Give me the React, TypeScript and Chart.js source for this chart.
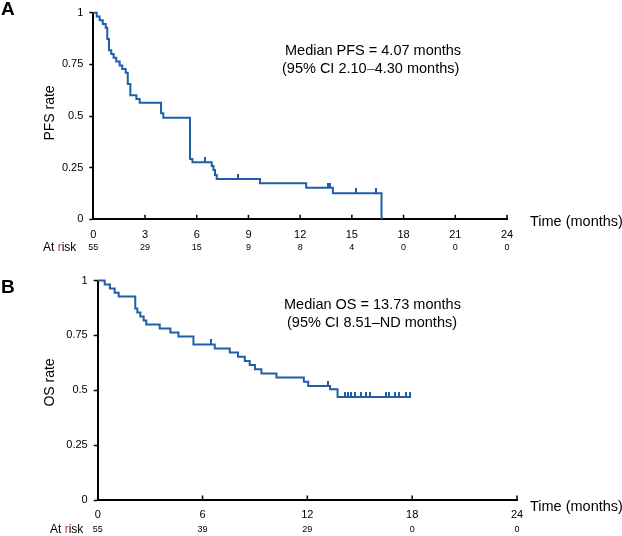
import React, { useEffect, useRef } from 'react';
import { Chart, registerables } from 'chart.js';

Chart.register(...registerables);

const FONT = '"Liberation Sans", Arial, Helvetica, sans-serif';
const BLUE = '#1f5ea8';
const RED = '#c0392b';

// ---------- Panel A: PFS ----------
const pfsTimes = [0, 0.2, 0.37, 0.55, 0.72, 0.81, 0.91, 1.04, 1.18, 1.33, 1.53, 1.68, 1.88, 2.0, 2.15, 2.5, 2.69, 3.93, 4.06, 5.61, 5.75, 6.87, 6.97, 7.06, 7.16, 9.67, 12.35, 13.9, 16.72];
const pfsSurvival = [1, 0.982, 0.964, 0.945, 0.927, 0.873, 0.818, 0.8, 0.782, 0.764, 0.745, 0.727, 0.709, 0.655, 0.6, 0.582, 0.564, 0.513, 0.492, 0.292, 0.276, 0.258, 0.239, 0.214, 0.195, 0.174, 0.153, 0.126, 0];
const pfsCensorTimes = [6.46, 8.4, 13.6, 13.74, 15.23, 16.4];
const pfsCensorSurvival = [0.276, 0.195, 0.153, 0.153, 0.126, 0.126];
const pfsTicks = [0, 3, 6, 9, 12, 15, 18, 21, 24];
const pfsAtRisk = [55, 29, 15, 9, 8, 4, 0, 0, 0];

// ---------- Panel B: OS ----------
const osTimes = [0, 0.4, 0.7, 0.97, 1.2, 2.15, 2.27, 2.44, 2.63, 2.78, 3.55, 4.16, 4.62, 5.48, 6.7, 7.56, 8.03, 8.42, 8.7, 9.0, 9.37, 10.23, 11.8, 12.05, 13.3, 13.73, 17.94];
const osSurvival = [1, 0.982, 0.964, 0.945, 0.927, 0.873, 0.855, 0.836, 0.818, 0.8, 0.782, 0.764, 0.745, 0.709, 0.691, 0.672, 0.653, 0.634, 0.615, 0.596, 0.577, 0.558, 0.539, 0.52, 0.505, 0.47, 0.47];
const osCensorTimes = [6.5, 13.18, 14.13, 14.32, 14.51, 14.7, 15.08, 15.37, 15.56, 16.51, 16.7, 16.99, 17.27, 17.65, 17.85];
const osCensorSurvival = [0.709, 0.52, 0.47, 0.47, 0.47, 0.47, 0.47, 0.47, 0.47, 0.47, 0.47, 0.47, 0.47, 0.47, 0.47];
const osTicks = [0, 6, 12, 18, 24];
const osAtRisk = [55, 39, 29, 0, 0];

const yTicks = [0, 0.25, 0.5, 0.75, 1];
const yTickLabels = ['0', '0.25', '0.5', '0.75', '1'];

type Part = { t: string; c: string };
type PanelDef = {
  letter: string;
  yTitle: string;
  times: number[];
  surv: number[];
  cTimes: number[];
  cSurv: number[];
  ticks: number[];
  atRisk: number[];
  notes: { x: number; y: number; parts: Part[] }[];
  canvasTop: number;
  height: number;
  left: number;
  right: number;
  top: number;
  bottom: number;
  xLabelPad: number;
  letterBase: number;
  yTitleY: number;
  timeY: number;
  atRiskY: number;
  atRiskX: number;
};

const panelA: PanelDef = {
  letter: 'A',
  yTitle: 'PFS rate',
  times: pfsTimes,
  surv: pfsSurvival,
  cTimes: pfsCensorTimes,
  cSurv: pfsCensorSurvival,
  ticks: pfsTicks,
  atRisk: pfsAtRisk,
  notes: [
    { x: 285, y: 51, parts: [{ t: 'Median PFS = 4.07 months', c: '#000' }] },
    { x: 282, y: 69, parts: [{ t: '(95% CI 2.10', c: '#000' }, { t: '\u2013', c: RED }, { t: '4.30 months)', c: '#000' }] },
  ],
  canvasTop: 0,
  height: 268,
  left: 93.3,
  right: 507,
  top: 12.7,
  bottom: 219.3,
  xLabelPad: 9,
  letterBase: 15,
  yTitleY: 113,
  timeY: 222,
  atRiskY: 248,
  atRiskX: 43,
};

const panelB: PanelDef = {
  letter: 'B',
  yTitle: 'OS rate',
  times: osTimes,
  surv: osSurvival,
  cTimes: osCensorTimes,
  cSurv: osCensorSurvival,
  ticks: osTicks,
  atRisk: osAtRisk,
  notes: [
    { x: 284, y: 37, parts: [{ t: 'Median OS = 13.73 months', c: '#000' }] },
    { x: 287, y: 55.3, parts: [{ t: '(95% CI 8.51\u2013ND months)', c: '#000' }] },
  ],
  canvasTop: 268,
  height: 268,
  left: 97.7,
  right: 517,
  top: 12,
  bottom: 232,
  xLabelPad: 8,
  letterBase: 25.3,
  yTitleY: 114.5,
  timeY: 238.7,
  atRiskY: 262,
  atRiskX: 50,
};

function makeCensorMark(): HTMLCanvasElement {
  const c = document.createElement('canvas');
  c.width = 2;
  c.height = 10;
  const g = c.getContext('2d')!;
  g.fillStyle = BLUE;
  g.fillRect(0, 0, 2, 5);
  return c;
}

function KMPanel({ p }: { p: PanelDef }) {
  const ref = useRef<HTMLCanvasElement>(null);
  useEffect(() => {
    const canvas = ref.current!;
    const mark = makeCensorMark();
    const textPlugin = {
      id: 'kmText',
      afterDraw(chart: any) {
        const ctx = chart.ctx as CanvasRenderingContext2D;
        const xs = chart.scales.x;
        const area = chart.chartArea;
        ctx.save();
        // inward x ticks
        ctx.strokeStyle = '#000';
        ctx.lineWidth = 1.5;
        p.ticks.forEach((v) => {
          const x = xs.getPixelForValue(v);
          ctx.beginPath();
          ctx.moveTo(x, area.bottom);
          ctx.lineTo(x, area.bottom - 4.5);
          ctx.stroke();
        });
        // panel letter
        ctx.fillStyle = '#000';
        ctx.textBaseline = 'alphabetic';
        ctx.textAlign = 'left';
        ctx.font = `bold 19px ${FONT}`;
        ctx.fillText(p.letter, 1, p.letterBase);
        // y title
        ctx.save();
        ctx.translate(50, p.yTitleY);
        ctx.rotate(-Math.PI / 2);
        ctx.textAlign = 'center';
        ctx.textBaseline = 'middle';
        ctx.font = `14px ${FONT}`;
        ctx.fillText(p.yTitle, 0, 0);
        ctx.restore();
        // x title
        ctx.textBaseline = 'middle';
        ctx.textAlign = 'left';
        ctx.font = `14.5px ${FONT}`;
        ctx.fillText('Time (months)', 530, p.timeY);
        // notes
        p.notes.forEach((n) => {
          let x = n.x;
          n.parts.forEach((part) => {
            ctx.fillStyle = part.c;
            ctx.fillText(part.t, x, n.y);
            x += ctx.measureText(part.t).width;
          });
        });
        // at risk label
        ctx.font = `12px ${FONT}`;
        let ax = p.atRiskX;
        const arParts: Part[] = [
          { t: 'At ', c: '#000' },
          { t: 'r', c: RED },
          { t: 'isk', c: '#000' },
        ];
        arParts.forEach((part) => {
          ctx.fillStyle = part.c;
          ctx.fillText(part.t, ax, p.atRiskY);
          ax += ctx.measureText(part.t).width;
        });
        // at risk numbers
        ctx.fillStyle = '#000';
        ctx.font = `9px ${FONT}`;
        ctx.textAlign = 'center';
        p.ticks.forEach((v, i) => {
          ctx.fillText(String(p.atRisk[i]), xs.getPixelForValue(v), p.atRiskY);
        });
        ctx.restore();
      },
    };

    const chart = new Chart(canvas, {
      type: 'line',
      data: {
        datasets: [
          {
            data: p.times.map((t, i) => ({ x: t, y: p.surv[i] })),
            stepped: true,
            borderColor: BLUE,
            borderWidth: 2,
            pointRadius: 0,
            fill: false,
            clip: false as any,
          },
          {
            data: p.cTimes.map((t, i) => ({ x: t, y: p.cSurv[i] })),
            showLine: false,
            pointStyle: mark as any,
            pointRadius: 5,
            borderColor: BLUE,
            backgroundColor: BLUE,
            clip: false as any,
          },
        ],
      },
      options: {
        animation: false,
        responsive: false,
        events: [],
        layout: { padding: { left: 0, top: p.top, right: 622 - p.right, bottom: 0 } },
        plugins: { legend: { display: false }, tooltip: { enabled: false } },
        scales: {
          x: {
            type: 'linear',
            min: 0,
            max: 24,
            afterBuildTicks: (s: any) => {
              s.ticks = p.ticks.map((v) => ({ value: v }));
            },
            afterFit: (s: any) => {
              s.height = p.height - p.bottom;
            },
            grid: { display: true, drawOnChartArea: false, drawTicks: false },
            border: { display: true, color: '#000', width: 2 },
            ticks: {
              color: '#000',
              font: { family: FONT, size: 11 },
              padding: p.xLabelPad,
              maxRotation: 0,
              autoSkip: false,
              callback: (v: any) => String(v),
            },
          },
          y: {
            type: 'linear',
            min: 0,
            max: 1,
            afterBuildTicks: (s: any) => {
              s.ticks = yTicks.map((v) => ({ value: v }));
            },
            afterFit: (s: any) => {
              s.width = p.left;
            },
            grid: { display: true, drawOnChartArea: false, drawTicks: true, tickLength: 4, tickColor: '#000', tickWidth: 1.5 },
            border: { display: true, color: '#000', width: 2 },
            ticks: {
              color: '#000',
              font: { family: FONT, size: 11 },
              padding: 6,
              autoSkip: false,
              callback: (v: any) => {
                const i = yTicks.indexOf(Number(v));
                return i >= 0 ? yTickLabels[i] : String(v);
              },
            },
          },
        },
      } as any,
      plugins: [textPlugin],
    });
    return () => chart.destroy();
  }, [p]);
  return (
    <canvas
      ref={ref}
      width={622}
      height={p.height}
      style={{ position: 'absolute', left: 0, top: p.canvasTop, width: 622, height: p.height, display: 'block' }}
    />
  );
}

export default function App() {
  return (
    <div style={{ position: 'absolute', left: 0, top: 0, width: 622, height: 536, background: '#fff' }}>
      <KMPanel p={panelA} />
      <KMPanel p={panelB} />
    </div>
  );
}
